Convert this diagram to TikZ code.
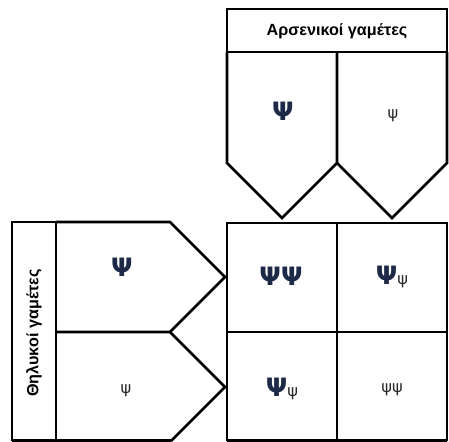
\documentclass[tikz,border=0pt]{standalone}
\usepackage{fontspec}
\setmainfont{Liberation Sans}
\newfontfamily\psifont{DejaVu Sans}
\usepackage{tikz}
\usetikzlibrary{positioning,calc}
\definecolor{psinavy}{RGB}{28,42,72}
\definecolor{psigris}{RGB}{40,40,45}
\tikzset{
  gridline/.style={draw=black, line width=1.8pt, line join=miter},
  headtext/.style={font=\fontsize{11.5}{13}\selectfont\bfseries, text=black},
  bigpsi/.style={font=\psifont\fontsize{18}{21}\selectfont\bfseries, text=psinavy},
  smallpsi/.style={font=\psifont\fontsize{11.5}{13}\selectfont, text=psigris}
}
\newcommand{\Bpsi}{{\psifont\fontsize{18}{21}\selectfont\bfseries\color{psinavy}Ψ}}
\newcommand{\Spsi}{{\psifont\fontsize{11.5}{13}\selectfont\color{psigris}ψ}}
\begin{document}
\begin{tikzpicture}[x=0.025cm, y=-0.025cm]
  \useasboundingbox (0,0) rectangle (449,442);

  % Male gametes header and pentagons
  \draw[gridline] (227,9) rectangle (447,52);
  \node[headtext] (mhead) at (337,31) {Αρσενικοί γαμέτες};
  \draw[gridline] (227,52) -- (227,163) -- (282,218) -- (337,163) -- (337,52);
  \draw[gridline] (337,163) -- (392,218) -- (447,163) -- (447,52);
  \node[bigpsi]   (m1) at (283,111) {Ψ};
  \node[smallpsi] (m2) at (393,116) {ψ};

  % Female gametes strip and pentagons
  \draw[gridline] (12,441) -- (12,222) -- (56,222) -- (56,441);
  \node[headtext, rotate=90] (fhead) at (34,333) {Θηλυκοί γαμέτες};
  \draw[gridline] (56,222) -- (170,222) -- (225,277) -- (170,332) -- (56,332);
  \draw[gridline] (170,332) -- (225,387) -- (171,441);
  \draw[gridline] (12,440.5) -- (171,440.5);
  \node[bigpsi]   (f1) at (122,267) {Ψ};
  \node[smallpsi] (f2) at (126,391) {ψ};

  % Offspring square
  \draw[gridline] (227,441) -- (227,223) -- (447,223) -- (447,441);
  \draw[gridline] (227,440.5) -- (447,440.5);
  \draw[gridline] (337,223) -- (337,441);
  \draw[gridline] (227,332) -- (447,332);
  \node (c11) at (281,276) {\Bpsi\Bpsi};
  \node (c12) at (392,277) {\Bpsi\Spsi};
  \node (c21) at (282,389) {\Bpsi\Spsi};
  \node (c22) at (392,390) {\Spsi\Spsi};
\end{tikzpicture}
\end{document}
